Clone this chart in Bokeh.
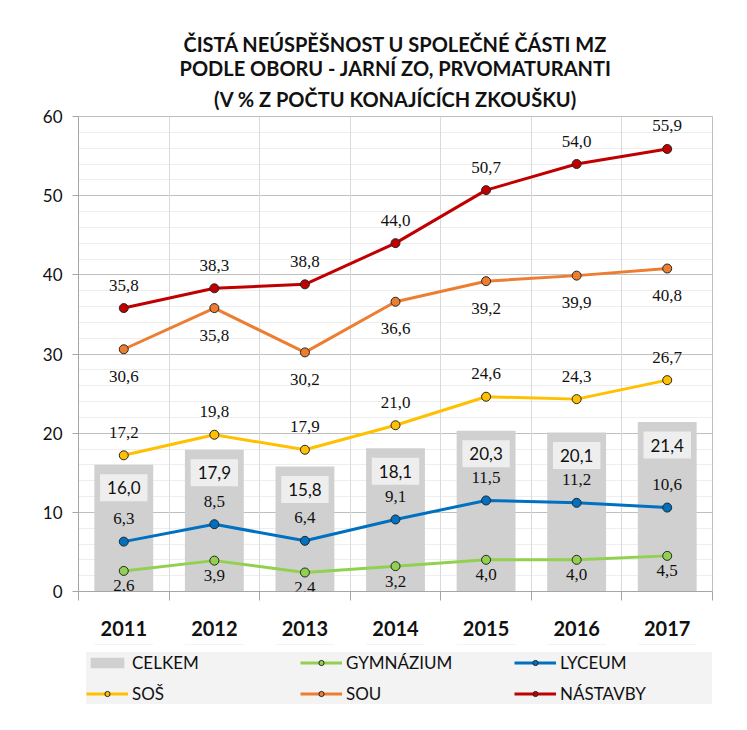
from bokeh.plotting import figure
from bokeh.layouts import column
from bokeh.models import (Range1d, FixedTicker, LinearAxis, CustomJSTickFormatter,
                          Grid, ColumnDataSource, LabelSet, Label, Legend, LegendItem, Title)
from bokeh.embed import file_html
from bokeh.resources import INLINE

years = ["2011", "2012", "2013", "2014", "2015", "2016", "2017"]
celkem = [16.0, 17.9, 15.8, 18.1, 20.3, 20.1, 21.4]
gymnazium = [2.6, 3.9, 2.4, 3.2, 4.0, 4.0, 4.5]
lyceum = [6.3, 8.5, 6.4, 9.1, 11.5, 11.2, 10.6]
sos = [17.2, 19.8, 17.9, 21.0, 24.6, 24.3, 26.7]
sou = [30.6, 35.8, 30.2, 36.6, 39.2, 39.9, 40.8]
nastavby = [35.8, 38.3, 38.8, 44.0, 50.7, 54.0, 55.9]
y_ticks = [0, 10, 20, 30, 40, 50, 60]
y_minor = list(range(0, 61, 2))
title_lines = ["ČISTÁ NEÚSPĚŠNOST U SPOLEČNÉ ČÁSTI MZ",
               "PODLE OBORU - JARNÍ ZO, PRVOMATURANTI",
               "(V % Z POČTU KONAJÍCÍCH ZKOUŠKU)"]

FONT = "Lato"
TXT = "#111111"

xpos = [i + 0.5 for i in range(len(years))]   # category centres
edges = list(range(len(years) + 1))           # category boundaries


def fmt(vals):
    return [f"{v:.1f}".replace(".", ",") for v in vals]


p = figure(width=731, height=644, x_range=Range1d(0, len(years)),
           y_range=Range1d(0, 60), x_axis_type=None,
           output_backend="svg", toolbar_location=None,
           min_border_left=78, min_border_right=19,
           min_border_top=116, min_border_bottom=53)
p.outline_line_color = "#bfbfbf"
p.background_fill_color = "white"
p.border_fill_color = "white"

# titles: p.title is outermost, later-added titles sit further from the frame
p.title.text = title_lines[0]
p.title.align = "center"
p.title.text_font = FONT
p.title.text_font_style = "bold"
p.title.text_font_size = "20px"
p.title.text_color = TXT
p.title.standoff = -2
p.add_layout(Title(text=title_lines[2], align="center", text_font=FONT, text_font_style="bold",
                   text_font_size="20px", text_color=TXT, standoff=12), "above")
p.add_layout(Title(text=title_lines[1], align="center", text_font=FONT, text_font_style="bold",
                   text_font_size="20px", text_color=TXT, standoff=-2), "above")

# y axis & grid
yax = p.yaxis[0]
yax.ticker = FixedTicker(ticks=y_ticks, minor_ticks=y_minor)
yax.axis_line_color = "#a6a6a6"
yax.major_tick_line_color = "#a6a6a6"
yax.major_tick_out = 6
yax.major_tick_in = 0
yax.minor_tick_out = 0
yax.minor_tick_in = 0
yax.major_label_standoff = 10
yax.major_label_text_font = FONT
yax.major_label_text_font_size = "17px"
yax.major_label_text_color = TXT
p.ygrid.grid_line_color = "#bfbfbf"
p.ygrid.minor_grid_line_color = "#eeeeee"

# x axes: boundary ticks then year labels
edge_ticker = FixedTicker(ticks=edges)
xedge = LinearAxis(ticker=edge_ticker)
xedge.axis_line_color = "#a6a6a6"
xedge.major_tick_line_color = "#a6a6a6"
xedge.major_tick_out = 9
xedge.major_tick_in = 0
xedge.minor_tick_line_color = None
xedge.major_label_text_font_size = "0px"
xedge.major_label_standoff = 0
p.add_layout(xedge, "below")

xcat = LinearAxis(ticker=FixedTicker(ticks=xpos),
                  formatter=CustomJSTickFormatter(args=dict(years=years),
                                                  code="return years[Math.floor(tick)];"))
xcat.axis_line_color = None
xcat.major_tick_line_color = None
xcat.minor_tick_line_color = None
xcat.major_tick_out = 0
xcat.major_label_standoff = 20
xcat.major_label_text_font = FONT
xcat.major_label_text_font_style = "bold"
xcat.major_label_text_font_size = "20px"
xcat.major_label_text_color = TXT
p.add_layout(xcat, "below")

p.add_layout(Grid(dimension=0, ticker=edge_ticker, grid_line_color="#d9d9d9"))

# bars
bar_src = ColumnDataSource(dict(x=xpos, y=celkem, t=fmt(celkem)))
p.vbar(x="x", top="y", width=0.65, source=bar_src,
       fill_color="#d0d0d0", line_color=None)
for xv, v, t in zip(xpos, celkem, fmt(celkem)):
    p.add_layout(Label(x=xv, y=v, text=t,
                       y_offset=-23, text_align="center", text_baseline="middle",
                       text_font=FONT, text_font_size="17px", text_color=TXT,
                       background_fill_color="#eeeeee", padding=7))

series = [
    ("GYMNÁZIUM", gymnazium, "#92d050", -15),
    ("LYCEUM", lyceum, "#0070c0", 23),
    ("SOŠ", sos, "#ffc000", 23),
    ("SOU", sou, "#ed7d31", -27),
    ("NÁSTAVBY", nastavby, "#c00000", 23),
]

# legend lives in its own strip below the chart; its renderers reuse the
# series data but fall outside that strip's (empty) view, so only the legend shows
lf = figure(width=731, height=70, x_range=Range1d(0, len(years)), y_range=Range1d(-2, -1),
            x_axis_type=None, y_axis_type=None, output_backend="svg",
            toolbar_location=None, min_border_left=40, min_border_right=0,
            min_border_top=0, min_border_bottom=0)
lf.title.visible = False
lf.outline_line_color = None
lf.xgrid.visible = False
lf.ygrid.visible = False
lf.background_fill_color = "white"
lf.border_fill_color = "white"

items = {"CELKEM": LegendItem(label="CELKEM", renderers=[
    lf.vbar(x="x", top="y", width=0.65, source=bar_src,
            fill_color="#d0d0d0", line_color=None)])}
for name, vals, col, off in series:
    src = ColumnDataSource(dict(x=xpos, y=vals, t=fmt(vals)))
    p.line(x="x", y="y", source=src, line_color=col, line_width=3)
    p.scatter(x="x", y="y", source=src, size=9, fill_color=col,
              line_color="#262626", line_width=1)
    p.add_layout(LabelSet(x="x", y="y", text="t", source=src, y_offset=off,
                          text_align="center", text_baseline="middle",
                          text_font=FONT, text_font_size="17px", text_color=TXT))
    lln = lf.line(x="x", y="y", source=src, line_color=col, line_width=3)
    lsc = lf.scatter(x="x", y="y", source=src, size=9, fill_color=col,
                     line_color="#262626", line_width=1)
    items[name] = LegendItem(label=name, renderers=[lln, lsc])

order = ["CELKEM", "GYMNÁZIUM", "LYCEUM", "SOŠ", "SOU", "NÁSTAVBY"]
legend = Legend(items=[items[k] for k in order], orientation="horizontal", ncols=3,
                location="top_left", glyph_width=42, glyph_height=13,
                label_height=21, label_width=158, label_standoff=4, spacing=10,
                padding=5, margin=8,
                background_fill_color="#f2f2f2", border_line_color=None,
                label_text_font=FONT, label_text_font_size="17px",
                label_text_color=TXT)
lf.add_layout(legend, "center")

layout = column(p, lf, spacing=0)
open("out.html", "w").write(file_html(layout, INLINE))
